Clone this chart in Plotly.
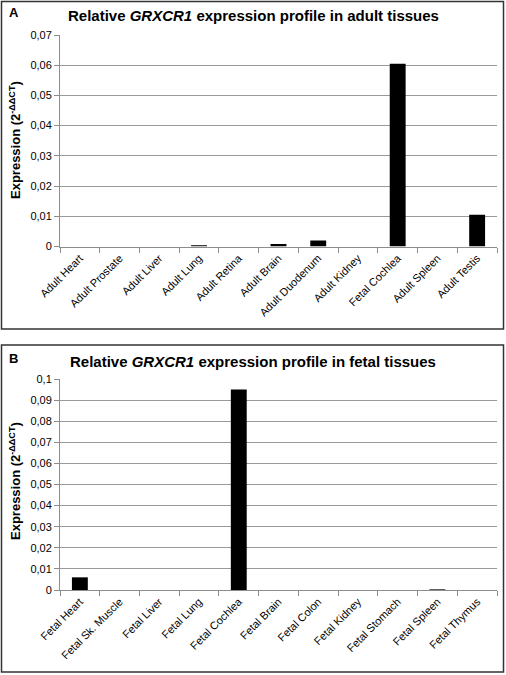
import plotly.graph_objects as go

W, H = 506, 675

adult_tissues = ["Adult Heart", "Adult Prostate", "Adult Liver", "Adult Lung", "Adult Retina",
                 "Adult Brain", "Adult Duodenum", "Adult Kidney", "Fetal Cochlea", "Adult Spleen",
                 "Adult Testis"]
adult_values = [0, 0, 0, 0.0004, 0, 0.0008, 0.002, 0, 0.0605, 0, 0.0105]
adult_yticks = [0, 0.01, 0.02, 0.03, 0.04, 0.05, 0.06, 0.07]
adult_yticklabels = ["0", "0,01", "0,02", "0,03", "0,04", "0,05", "0,06", "0,07"]

fetal_tissues = ["Fetal Heart", "Fetal Sk. Muscle", "Fetal Liver", "Fetal Lung", "Fetal Cochlea",
                 "Fetal Brain", "Fetal Colon", "Fetal Kidney", "Fetal Stomach", "Fetal Spleen",
                 "Fetal Thymus"]
fetal_values = [0.006, 0, 0, 0, 0.095, 0, 0, 0, 0, 0.0003, 0]
fetal_yticks = [0, 0.01, 0.02, 0.03, 0.04, 0.05, 0.06, 0.07, 0.08, 0.09, 0.1]
fetal_yticklabels = ["0", "0,01", "0,02", "0,03", "0,04", "0,05", "0,06", "0,07", "0,08", "0,09", "0,1"]

FONT = "Liberation Sans, Arial, sans-serif"

def px_x(p):
    return p / W

def px_y(p):
    return 1 - p / H

fig = go.Figure()
fig.add_trace(go.Bar(x=adult_tissues, y=adult_values, marker=dict(color="black", line=dict(width=0)),
                     xaxis="x", yaxis="y", showlegend=False))
fig.add_trace(go.Bar(x=fetal_tissues, y=fetal_values, marker=dict(color="black", line=dict(width=0)),
                     xaxis="x2", yaxis="y2", showlegend=False))

xcommon = dict(type="category", showgrid=False, showline=True, linecolor="#8c8c8c", linewidth=1,
               ticks="outside", ticklen=5, tickcolor="#8c8c8c", tickson="boundaries",
               tickangle=-45, tickfont=dict(family=FONT, size=11, color="black"),
               domain=[px_x(60), px_x(497)], fixedrange=True, automargin=False)
ycommon = dict(showgrid=True, gridcolor="#9a9a9a", gridwidth=1, showline=True, linecolor="#8c8c8c",
               linewidth=1, ticks="outside", ticklen=5, tickcolor="#8c8c8c",
               tickfont=dict(family=FONT, size=11, color="black"), zeroline=False, fixedrange=True,
               automargin=False)

fig.update_layout(
    template="none",
    width=W, height=H,
    margin=dict(l=0, r=0, t=0, b=0, pad=0),
    paper_bgcolor="white", plot_bgcolor="white",
    bargap=0.6,
    hovermode=False,
    xaxis=dict(xcommon, anchor="y"),
    yaxis=dict(ycommon, anchor="x", range=[0, 0.07], tickvals=adult_yticks, ticktext=adult_yticklabels,
               domain=[px_y(246.5), px_y(35)]),
    xaxis2=dict(xcommon, anchor="y2"),
    yaxis2=dict(ycommon, anchor="x2", range=[0, 0.1], tickvals=fetal_yticks, ticktext=fetal_yticklabels,
                domain=[px_y(590), px_y(379)]),
    shapes=[
        dict(type="rect", xref="paper", yref="paper", x0=px_x(1.5), x1=px_x(503.5), y0=px_y(329), y1=px_y(1.5),
             line=dict(color="#333333", width=1.5)),
        dict(type="rect", xref="paper", yref="paper", x0=px_x(1.5), x1=px_x(503.5), y0=px_y(672), y1=px_y(345),
             line=dict(color="#333333", width=1.5)),
    ],
)

ann = []
ann.append(dict(text="<b>A</b>", x=px_x(7), y=px_y(12), xanchor="left", yanchor="middle",
                font=dict(family=FONT, size=13, color="black")))
ann.append(dict(text="<b>B</b>", x=px_x(7), y=px_y(358), xanchor="left", yanchor="middle",
                font=dict(family=FONT, size=13, color="black")))
ann.append(dict(text="<b>Relative <i>GRXCR1</i> expression profile in adult tissues</b>",
                x=px_x(253), y=px_y(15), xanchor="center", yanchor="middle",
                font=dict(family=FONT, size=15, color="black")))
ann.append(dict(text="<b>Relative <i>GRXCR1</i> expression profile in fetal tissues</b>",
                x=px_x(253), y=px_y(361), xanchor="center", yanchor="middle",
                font=dict(family=FONT, size=15, color="black")))
ytitle = "<b>Expression (2<sup>-ΔΔCT</sup>)</b>"
ann.append(dict(text=ytitle, textangle=-90, x=px_x(15), y=px_y(140), xanchor="center", yanchor="middle",
                font=dict(family=FONT, size=13, color="black")))
ann.append(dict(text=ytitle, textangle=-90, x=px_x(15), y=px_y(481), xanchor="center", yanchor="middle",
                font=dict(family=FONT, size=13, color="black")))
for a in ann:
    a.update(xref="paper", yref="paper", showarrow=False)
fig.update_layout(annotations=ann)

fig.write_html("out.html", config={"displayModeBar": False, "staticPlot": True},
               post_script="document.body.style.margin='0';document.body.style.overflow='hidden';")
